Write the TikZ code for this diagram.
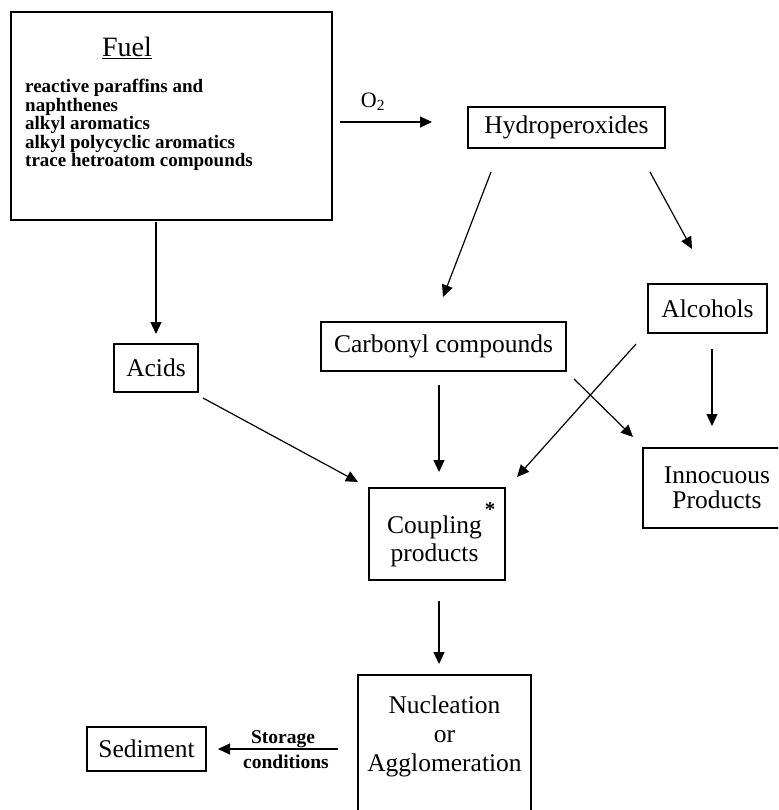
\documentclass[tikz,border=0pt]{standalone}
\usepackage{fontspec}
\setmainfont{Liberation Serif}
\usetikzlibrary{arrows.meta}
\newcommand\fsz[2]{\fontsize{#1}{#2}\selectfont}
\begin{document}
\begin{tikzpicture}[x=1pt,y=-1pt,
  box/.style={draw, line width=1.2pt, inner sep=0pt, align=center, font=\fsz{25.5}{26}},
  arr/.style={line width=1.2pt, -{Triangle[length=12pt,width=11pt]}},
  lst/.style={font=\bfseries\fsz{19}{19}, anchor=base west, inner sep=0pt},
  txt/.style={inner sep=0pt, align=center},
  lbl/.style={inner sep=0pt, anchor=base, font=\bfseries\fsz{19.5}{20}},
]
\useasboundingbox (0,0) rectangle (778,810);
\clip (0,0) rectangle (778,810);
\fill[white] (0,0) rectangle (778,810);

% Fuel box
\node[box, minimum width=321pt, minimum height=208pt] (fuel) at (171.5,116) {};
\node[inner sep=0pt, anchor=base, font=\fsz{28}{28}] (fueltitle) at (127,57) {\underline{Fuel}};
\node[lst] (f1) at (25,93) {reactive paraffins and};
\node[lst] (f2) at (25,111.5) {naphthenes};
\node[lst] (f3) at (25,130) {alkyl aromatics};
\node[lst] (f4) at (25,148.5) {alkyl polycyclic aromatics};
\node[lst] (f5) at (25,167) {trace hetroatom compounds};

% other boxes
\node[box, minimum width=197pt, minimum height=41pt] (hyd) at (566.5,127.5) {Hydroperoxides};
\node[box, minimum width=119pt, minimum height=49pt] (alc) at (707.5,308.5) {Alcohols};
\node[box, minimum width=245pt, minimum height=49pt] (carb) at (443.5,346.5) {Carbonyl compounds};
\node[box, minimum width=84pt, minimum height=48pt] (acids) at (156,368) {Acids};
\node[box, minimum width=136pt, minimum height=92pt] (coup) at (437,534) {};
\node[txt, font=\fsz{25.5}{28}] (couptext) at (434.5,541) {Coupling\\products};
\node[inner sep=0pt, font=\bfseries\fsz{21}{21}] (star) at (490,510) {*};
\node[box, minimum width=148pt, minimum height=80pt, font=\fsz{25.5}{25.5}] (inn) at (717,488) {Innocuous\\Products};
\node[box, minimum width=173pt, minimum height=175pt] (nuc) at (444.5,762.5) {};
\node[txt, font=\fsz{25.5}{29}] (nuctext) at (444.5,736) {Nucleation\\or\\Agglomeration};
\node[box, minimum width=119pt, minimum height=44pt] (sed) at (146.5,749) {Sediment};

% labels
\node[inner sep=0pt, font=\fsz{22}{22}] (o2) at (373,102) {O\textsubscript{2}};
\node[lbl] (stor1) at (283,743) {Storage};
\node[lbl] (stor2) at (286,768) {conditions};

% connector end points
\coordinate (fa1) at (156,222);   \coordinate (fa2) at (156,334);
\coordinate (oh1) at (340,122);   \coordinate (oh2) at (432,122);
\coordinate (hc1) at (491,172);   \coordinate (hc2) at (443,297);
\coordinate (ha1) at (650,172);   \coordinate (ha2) at (692,249);
\coordinate (ac1) at (203,398);   \coordinate (ac2) at (358,482);
\coordinate (cc1) at (439,385);   \coordinate (cc2) at (439,472);
\coordinate (lc1) at (636,344);   \coordinate (lc2) at (517,477);
\coordinate (ci1) at (574,379);   \coordinate (ci2) at (633,437);
\coordinate (li1) at (712,349);   \coordinate (li2) at (712,426);
\coordinate (cn1) at (439,601);   \coordinate (cn2) at (439,664);
\coordinate (ns1) at (338,749);   \coordinate (ns2) at (218,749);

\draw[arr] (fa1) -- (fa2);
\draw[arr] (oh1) -- (oh2);
\draw[arr] (hc1) -- (hc2);
\draw[arr] (ha1) -- (ha2);
\draw[arr] (ac1) -- (ac2);
\draw[arr] (cc1) -- (cc2);
\draw[arr] (lc1) -- (lc2);
\draw[arr] (ci1) -- (ci2);
\draw[arr] (li1) -- (li2);
\draw[arr] (cn1) -- (cn2);
\draw[arr] (ns1) -- (ns2);
\end{tikzpicture}
\end{document}
